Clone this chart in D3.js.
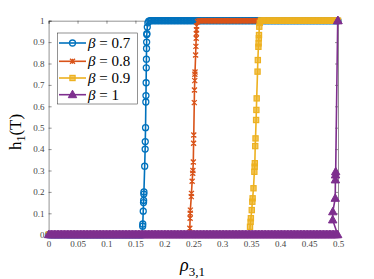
<!DOCTYPE html>
<html>
<head>
<meta charset="utf-8">
<script src="https://cdn.jsdelivr.net/npm/d3@7"></script>
<style>
  body { margin: 0; background: #fff; }
  svg { display: block; font-family: "Liberation Serif", "Times New Roman", serif; }
</style>
</head>
<body>
<div id="chart"></div>
<script>
// sampling grid of rho on the flat parts
const rhoGrid = [
  0, 0.0025, 0.005, 0.0075, 0.01, 0.0125, 0.015, 0.0175, 0.02, 0.0225,
  0.025, 0.0275, 0.03, 0.0325, 0.035, 0.0375, 0.04, 0.0425, 0.045, 0.0475,
  0.05, 0.0525, 0.055, 0.0575, 0.06, 0.0625, 0.065, 0.0675, 0.07, 0.0725,
  0.075, 0.0775, 0.08, 0.0825, 0.085, 0.0875, 0.09, 0.0925, 0.095, 0.0975,
  0.1, 0.1025, 0.105, 0.1075, 0.11, 0.1125, 0.115, 0.1175, 0.12, 0.1225,
  0.125, 0.1275, 0.13, 0.1325, 0.135, 0.1375, 0.14, 0.1425, 0.145, 0.1475,
  0.15, 0.1525, 0.155, 0.1575, 0.16, 0.1625, 0.165, 0.1675, 0.17, 0.1725,
  0.175, 0.1775, 0.18, 0.1825, 0.185, 0.1875, 0.19, 0.1925, 0.195, 0.1975,
  0.2, 0.2025, 0.205, 0.2075, 0.21, 0.2125, 0.215, 0.2175, 0.22, 0.2225,
  0.225, 0.2275, 0.23, 0.2325, 0.235, 0.2375, 0.24, 0.2425, 0.245, 0.2475,
  0.25, 0.2525, 0.255, 0.2575, 0.26, 0.2625, 0.265, 0.2675, 0.27, 0.2725,
  0.275, 0.2775, 0.28, 0.2825, 0.285, 0.2875, 0.29, 0.2925, 0.295, 0.2975,
  0.3, 0.3025, 0.305, 0.3075, 0.31, 0.3125, 0.315, 0.3175, 0.32, 0.3225,
  0.325, 0.3275, 0.33, 0.3325, 0.335, 0.3375, 0.34, 0.3425, 0.345, 0.3475,
  0.35, 0.3525, 0.355, 0.3575, 0.36, 0.3625, 0.365, 0.3675, 0.37, 0.3725,
  0.375, 0.3775, 0.38, 0.3825, 0.385, 0.3875, 0.39, 0.3925, 0.395, 0.3975,
  0.4, 0.4025, 0.405, 0.4075, 0.41, 0.4125, 0.415, 0.4175, 0.42, 0.4225,
  0.425, 0.4275, 0.43, 0.4325, 0.435, 0.4375, 0.44, 0.4425, 0.445, 0.4475,
  0.45, 0.4525, 0.455, 0.4575, 0.46, 0.4625, 0.465, 0.4675, 0.47, 0.4725,
  0.475, 0.4775, 0.48, 0.4825, 0.485, 0.4875, 0.49, 0.4925, 0.495, 0.4975, 0.5
];

const betaLabels = ["0.7", "0.8", "0.9", "1"];

// points read along each jump [rho, h]
const jump07 = [[0.1622,0.0],[0.1625,0.04],[0.1627,0.05],[0.1635,0.11],[0.1640,0.15],[0.1642,0.16],[0.1645,0.19],
  [0.1647,0.20],[0.1660,0.32],[0.1668,0.40],[0.1670,0.435],[0.1675,0.50],[0.1680,0.62],[0.1682,0.65],
  [0.1685,0.71],[0.1688,0.78],[0.1690,0.82],[0.1692,0.87],[0.1694,0.90],[0.1696,0.935],[0.1698,0.94],
  [0.1705,0.97],[0.1715,0.99],[0.1730,0.998],[0.1755,1]];
const jump08 = [[0.2435,0.0],[0.2440,0.03],[0.2445,0.077],[0.2447,0.10],[0.2449,0.115],[0.2465,0.178],[0.2468,0.193],
  [0.2480,0.25],[0.2490,0.287],[0.2493,0.30],[0.2500,0.34],[0.2505,0.427],[0.2508,0.466],[0.2517,0.617],
  [0.2520,0.676],[0.2525,0.72],[0.2527,0.75],[0.2530,0.76],[0.2540,0.84],[0.2545,0.88],[0.2550,0.918],
  [0.2553,0.94],[0.2555,0.957],[0.2557,0.975],[0.2575,0.995],[0.2600,1]];
const jump09 = [[0.3475,0.0],[0.3480,0.037],[0.3490,0.06],[0.3495,0.077],[0.3510,0.115],[0.3520,0.154],[0.3525,0.17],
  [0.3540,0.217],[0.3555,0.294],[0.3560,0.318],[0.3563,0.334],[0.3570,0.414],[0.3575,0.45],[0.3585,0.536],
  [0.3590,0.583],[0.3595,0.637],[0.3610,0.762],[0.3615,0.816],[0.3625,0.878],[0.3628,0.894],[0.3632,0.918],
  [0.3635,0.933],[0.3640,0.972],[0.3650,0.99],[0.3670,1]];
const jump10 = [[0.4995,0.0],[0.4908,0.069],[0.4910,0.107],[0.4952,0.17],[0.4955,0.256],[0.4957,0.279],
  [0.4960,0.294],[0.4995,1]];

const jumps = [jump07, jump08, jump09, jump10];
const colors = ["#0072BD", "#D95319", "#EDB120", "#7E2F8E"];
const markers = ["circle", "cross", "square", "triangle"];

const xTicks = [0, 0.05, 0.1, 0.15, 0.2, 0.25, 0.3, 0.35, 0.4, 0.45, 0.5];
const yTicks = [0, 0.1, 0.2, 0.3, 0.4, 0.5, 0.6, 0.7, 0.8, 0.9, 1];

// h = 0 before the jump, 1 after it
function buildSeries(jump) {
  const lo = jump[0][0], hi = jump[jump.length - 1][0];
  const before = rhoGrid.filter(r => r < lo).map(r => [r, 0]);
  const after = rhoGrid.filter(r => r > hi).map(r => [r, 1]);
  return before.concat(jump, after);
}

const W = 374, H = 279;
const x = d3.scaleLinear().domain([0, 0.5]).range([48.6, 338]);
const y = d3.scaleLinear().domain([0, 1]).range([234.7, 20.7]);

const svg = d3.select("#chart").append("svg").attr("width", W).attr("height", H);

// axes box
const axisColor = "#262626";
const gx = svg.append("g").attr("transform", "translate(0," + y(0) + ")")
  .call(d3.axisBottom(x).tickValues(xTicks).tickSize(-3).tickPadding(6).tickFormat(d3.format("")));
const gy = svg.append("g").attr("transform", "translate(" + x(0) + ",0)")
  .call(d3.axisLeft(y).tickValues(yTicks).tickSize(-3).tickPadding(4).tickFormat(d3.format("")));
const gt = svg.append("g").attr("transform", "translate(0," + y(1) + ")")
  .call(d3.axisTop(x).tickValues(xTicks).tickSize(-3).tickFormat(""));
const gr = svg.append("g").attr("transform", "translate(" + x(0.5) + ",0)")
  .call(d3.axisRight(y).tickValues(yTicks).tickSize(-3).tickFormat(""));
[gx, gy, gt, gr].forEach(g => {
  g.selectAll("path").attr("stroke", axisColor).attr("stroke-width", 0.5);
  g.selectAll("line").attr("stroke", axisColor).attr("stroke-width", 0.5);
  g.selectAll("text").attr("fill", "#444").style("font-size", "9px")
    .style("font-family", "'Liberation Serif', serif");
});

function drawMarker(g, type, color) {
  if (type === "circle") {
    g.append("circle").attr("r", 3).attr("fill", "none").attr("stroke", color).attr("stroke-width", 1.3);
  } else if (type === "cross") {
    g.append("path").attr("d", "M-2.5,-2.5L2.5,2.5M-2.5,2.5L2.5,-2.5M0,-2.5L0,2.5")
      .attr("fill", "none").attr("stroke", color).attr("stroke-width", 1.3);
  } else if (type === "square") {
    g.append("rect").attr("x", -2.6).attr("y", -2.6).attr("width", 5.2).attr("height", 5.2)
      .attr("fill", color).attr("fill-opacity", 0.7).attr("stroke", color).attr("stroke-width", 1.2);
  } else {
    g.append("path").attr("d", "M0,-4.5L4.2,3L-4.2,3Z")
      .attr("fill", color).attr("stroke", color).attr("stroke-width", 1);
  }
}

const line = d3.line().x(d => x(d[0])).y(d => y(d[1]));

jumps.forEach((jump, i) => {
  const data = buildSeries(jump);
  const g = svg.append("g");
  g.append("path").datum(data).attr("d", line)
    .attr("fill", "none").attr("stroke", colors[i]).attr("stroke-width", 1.6);
  g.selectAll("g.m").data(data).enter().append("g").attr("class", "m")
    .attr("transform", d => "translate(" + x(d[0]) + "," + y(d[1]) + ")")
    .each(function () { drawMarker(d3.select(this), markers[i], colors[i]); });
});

// legend
const lg = svg.append("g");
lg.append("rect").attr("x", 57.3).attr("y", 33).attr("width", 80).attr("height", 71)
  .attr("fill", "#fff").attr("stroke", axisColor).attr("stroke-width", 0.5);
const rowY = [43, 61.3, 78, 94.7];
betaLabels.forEach((b, i) => {
  const row = lg.append("g").attr("transform", "translate(0," + rowY[i] + ")");
  row.append("line").attr("x1", 59).attr("x2", 86).attr("stroke", colors[i]).attr("stroke-width", 1.6);
  const m = row.append("g").attr("transform", "translate(72.5,0)");
  drawMarker(m, markers[i], colors[i]);
  const t = row.append("text").attr("x", 88).attr("y", 5).style("font-size", "15px").attr("fill", "#000");
  t.append("tspan").style("font-style", "italic").text("β");
  t.append("tspan").text(" = " + b);
});

// axis labels
const yl = svg.append("text").attr("transform", "translate(21,132) rotate(-90)")
  .attr("text-anchor", "middle").style("font-size", "17px").attr("fill", "#000");
yl.append("tspan").text("h");
yl.append("tspan").attr("dy", 4).style("font-size", "12px").text("1");
yl.append("tspan").attr("dy", -4).text("(T)");

const xl = svg.append("text").attr("x", 180).attr("y", 271).style("font-size", "18px").attr("fill", "#000");
xl.append("tspan").style("font-style", "italic").text("ρ");
xl.append("tspan").attr("dy", 5).style("font-size", "13px").text("3,1");
</script>
</body>
</html>
